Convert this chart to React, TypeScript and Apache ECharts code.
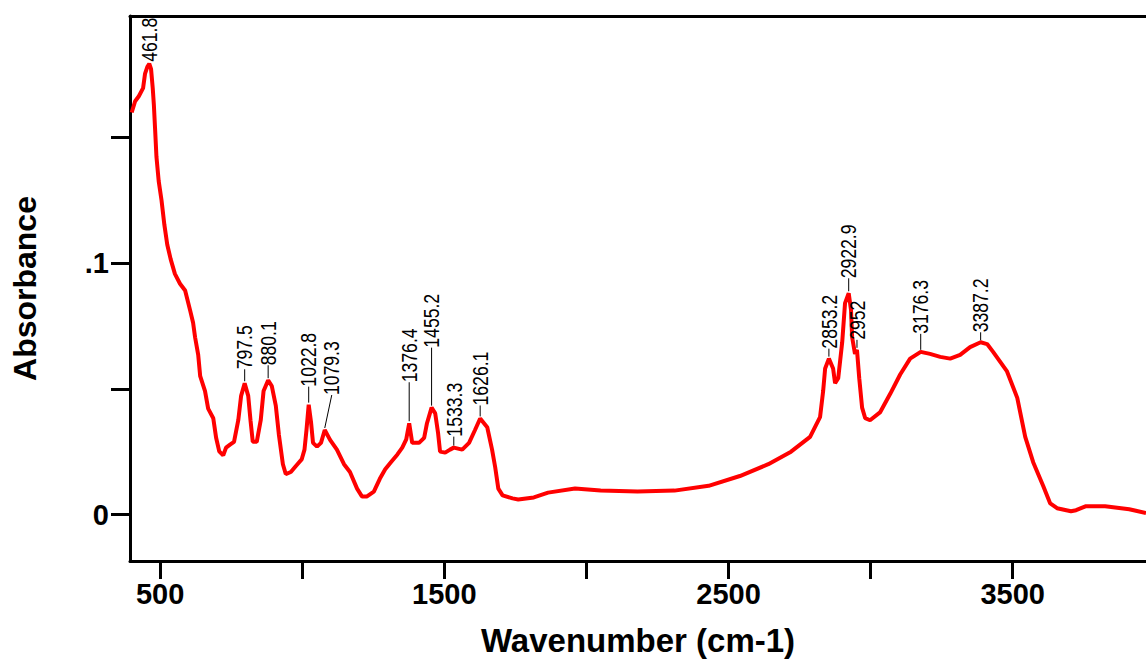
import React, { useEffect, useRef } from "react";
import * as echarts from "echarts";

// FTIR absorbance spectrum, wavenumber (cm-1) vs absorbance
const wavenumbers = [
  400, 412, 425, 440, 447, 455, 461.8, 468, 474, 478, 482, 487, 495, 505, 515, 525, 537, 552, 570, 588,
  606, 616, 623, 634, 641, 658, 669, 687, 697, 708, 722, 732, 746, 760, 775, 785, 797.5, 810, 818, 826,
  840, 854, 864, 880.1, 893, 907, 918, 932, 942, 960, 977, 998, 1008, 1015, 1022.8, 1031, 1038, 1052, 1066, 1079.3,
  1098, 1122, 1147, 1168, 1193, 1210, 1228, 1252, 1273, 1292, 1312, 1335, 1352, 1366, 1376.4, 1387, 1411, 1429, 1439, 1455.2,
  1468, 1478, 1485, 1503, 1520, 1533.3, 1563, 1587, 1608, 1626.1, 1651, 1668, 1679, 1690, 1705, 1740, 1760, 1815, 1865, 1960,
  2050, 2180, 2310, 2430, 2540, 2640, 2720, 2787, 2822, 2833, 2840, 2853.2, 2868, 2875, 2886, 2900, 2910, 2922.9, 2931, 2935,
  2945, 2952, 2960, 2970, 2981, 2998, 3033, 3069, 3104, 3139, 3176.3, 3209, 3245, 3280, 3315, 3350, 3387.2, 3410, 3431, 3480,
  3516, 3544, 3572, 3607, 3632, 3656, 3705, 3723, 3758, 3825, 3910, 3969,
];

const absorbance = [
  0.1600, 0.1645, 0.1665, 0.1697, 0.1755, 0.1782, 0.1794, 0.1774, 0.1697, 0.163, 0.1541, 0.1425, 0.1327, 0.125, 0.1153, 0.1075, 0.1017, 0.0958, 0.0919, 0.0892,
  0.0811, 0.0764, 0.0706, 0.0636, 0.0551, 0.0492, 0.0422, 0.0384, 0.0306, 0.0252, 0.0236, 0.0267, 0.0279, 0.029, 0.0376, 0.0473, 0.0523, 0.0473, 0.0376, 0.029,
  0.029, 0.0376, 0.0492, 0.0535, 0.0512, 0.0434, 0.0317, 0.0201, 0.0162, 0.017, 0.0193, 0.022, 0.0259, 0.0337, 0.0438, 0.0368, 0.0286, 0.0271, 0.0286, 0.0337,
  0.0298, 0.0259, 0.0201, 0.017, 0.0104, 0.0073, 0.0073, 0.0092, 0.0143, 0.0181, 0.0209, 0.024, 0.0267, 0.03, 0.0364, 0.0286, 0.0286, 0.0306, 0.0364, 0.0426,
  0.0403, 0.0325, 0.0251, 0.0247, 0.0259, 0.0267, 0.0259, 0.0286, 0.0337, 0.0383, 0.0348, 0.0259, 0.0189, 0.0104, 0.0077, 0.0065, 0.0061, 0.0069, 0.0088, 0.0104,
  0.0096, 0.0092, 0.0096, 0.0115, 0.0154, 0.0201, 0.0251, 0.031, 0.0388, 0.0492, 0.0582, 0.0621, 0.0582, 0.0523, 0.0543, 0.0686, 0.0842, 0.0881, 0.0815, 0.0706,
  0.064, 0.0656, 0.0543, 0.0426, 0.0384, 0.0376, 0.0407, 0.0481, 0.0558, 0.0621, 0.0648, 0.064, 0.0628, 0.0621, 0.0636, 0.0667, 0.0686, 0.0679, 0.0648, 0.057,
  0.0465, 0.031, 0.0209, 0.0115, 0.0045, 0.0026, 0.0014, 0.0018, 0.0034, 0.0034, 0.0022, 0.0007,
];

// Picked peaks and their printed labels
const peakWavenumbers = [461.8, 797.5, 880.1, 1022.8, 1079.3, 1376.4, 1455.2, 1533.3, 1626.1, 2853.2, 2922.9, 2952, 3176.3, 3387.2];
const peakLabels = ["461.8", "797.5", "880.1", "1022.8", "1079.3", "1376.4", "1455.2", "1533.3", "1626.1", "2853.2", "2922.9", "2952", "3176.3", "3387.2"];

// Leader line lengths (px) and sideways shift of each label
const leaderLength = [2, 14, 15, 18, 35, 41, 60, 11, 13, 10, 15, 10, 18, 10];
const leaderShift = [0, 0, 0, 0, 7, 0, 0, 0, 0, 0, 0, 0, 0, 0];

// Axis ticks and labels
const xTickValues = [500, 1000, 1500, 2000, 2500, 3000, 3500];
const xLabelValues = [500, 1500, 2500, 3500];
const yTickValues = [0, 0.05, 0.1, 0.15];
const yLabelValues = [0, 0.1];

const X_MIN = 394;
const X_MAX = 3969;
const Y_MIN = -0.0184;
const Y_MAX = 0.1984;

const FONT = "'Liberation Sans', Arial, Helvetica, sans-serif";

export default function App() {
  const ref = useRef<HTMLDivElement>(null);

  useEffect(() => {
    if (!ref.current) return;
    const chart = echarts.init(ref.current, undefined, { renderer: "svg" });

    const spectrum = wavenumbers.map((w, i) => [w, absorbance[i]]);
    const peaks = peakWavenumbers.map((w) => [w, absorbance[wavenumbers.indexOf(w)]]);

    const axisLine = { show: true, onZero: false, lineStyle: { color: "#000", width: 3 } };
    const tickLabel = { color: "#000", fontSize: 29, fontWeight: "bold" as const, fontFamily: FONT };
    const nameStyle = { color: "#000", fontSize: 32, fontWeight: "bold" as const, fontFamily: FONT };

    chart.setOption({
      animation: false,
      backgroundColor: "#fff",
      grid: { left: 130, right: 0, top: 16, bottom: 88, containLabel: false },
      xAxis: [
        {
          type: "value",
          min: X_MIN,
          max: X_MAX,
          position: "bottom",
          axisLine,
          axisTick: { show: true, customValues: xTickValues, length: 18, lineStyle: { color: "#000", width: 3 } },
          axisLabel: { customValues: xLabelValues, margin: 18, formatter: (v: number) => String(v), ...tickLabel },
          splitLine: { show: false },
          name: "Wavenumber (cm-1)",
          nameLocation: "middle",
          nameGap: 63,
          nameTextStyle: { ...nameStyle, fontSize: 33 },
        },
        {
          type: "value",
          min: X_MIN,
          max: X_MAX,
          position: "top",
          axisLine,
          axisTick: { show: false },
          axisLabel: { show: false },
          splitLine: { show: false },
        },
      ],
      yAxis: {
        type: "value",
        min: Y_MIN,
        max: Y_MAX,
        axisLine,
        axisTick: { show: true, customValues: yTickValues, length: 19, lineStyle: { color: "#000", width: 3 } },
        axisLabel: {
          customValues: yLabelValues,
          margin: 21,
          formatter: (v: number) => (v === 0 ? "0" : String(v).replace(/^0\./, ".")),
          ...tickLabel,
        },
        splitLine: { show: false },
        name: "Absorbance",
        nameLocation: "middle",
        nameRotate: 90,
        nameGap: 89,
        nameTextStyle: nameStyle,
      },
      series: [
        {
          type: "line",
          data: spectrum,
          symbol: "none",
          lineStyle: { color: "#ff0000", width: 4 },
          z: 2,
        },
        {
          type: "custom",
          data: peaks,
          clip: false,
          silent: true,
          z: 3,
          renderItem: (params: any, api: any) => {
            const i = params.dataIndex;
            const p = api.coord([api.value(0), api.value(1)]);
            const lead = leaderLength[i];
            const dx = leaderShift[i];
            const children: any[] = [];
            if (lead > 4) {
              children.push({
                type: "line",
                shape: { x1: p[0], y1: p[1] - 2, x2: p[0] + dx, y2: p[1] - lead },
                style: { stroke: "#000", lineWidth: 1 },
              });
            }
            children.push({
              type: "text",
              x: p[0] + dx,
              y: p[1] - lead,
              rotation: Math.PI / 2,
              scaleX: 0.8,
              style: {
                text: peakLabels[i],
                fill: "#000",
                fontSize: 22,
                fontFamily: FONT,
                align: "left",
                verticalAlign: "middle",
              },
            });
            return { type: "group", children };
          },
        },
      ],
    });

    return () => chart.dispose();
  }, []);

  return (
    <div
      ref={ref}
      style={{ position: "absolute", left: 0, top: 0, width: 1146, height: 662, background: "#fff" }}
    />
  );
}
